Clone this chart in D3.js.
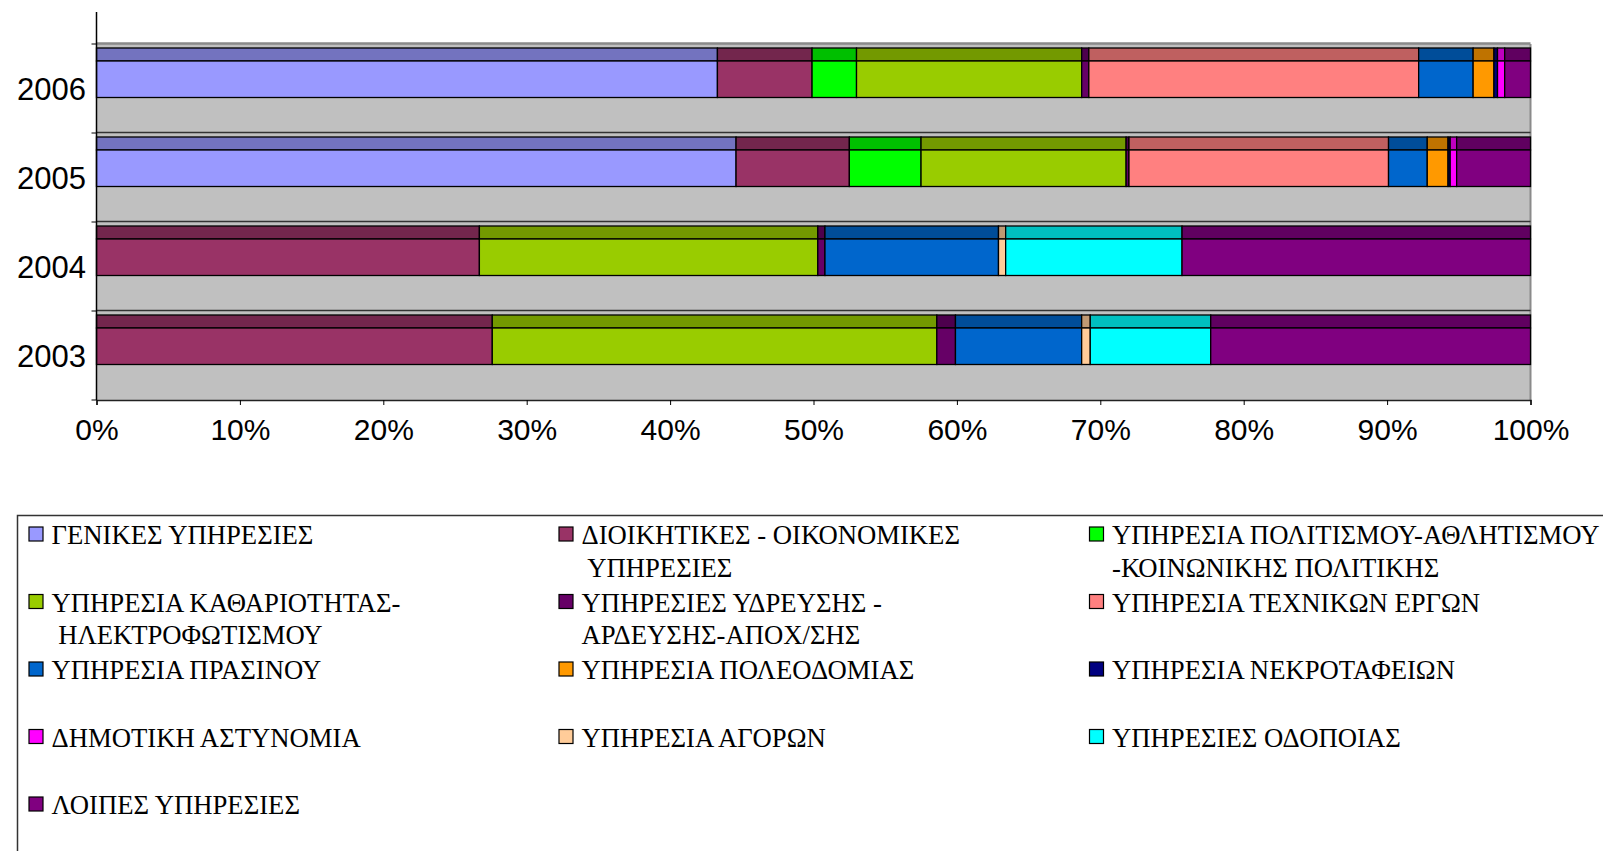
<!DOCTYPE html>
<meta charset="utf-8">
<style>
  body { margin: 0; background: #fff; }
  text { fill: #000; }
</style>
<body>
<script src="https://cdn.jsdelivr.net/npm/d3@7"></script>
<script>

var width = 1603,
    height = 851;

// categories (top to bottom)
var years = ["2006", "2005", "2004", "2003"];

// services, in legend / stacking order ("\n" = where the legend wraps)
var services = [
  "ΓΕΝΙΚΕΣ ΥΠΗΡΕΣΙΕΣ",
  "ΔΙΟΙΚΗΤΙΚΕΣ - ΟΙΚΟΝΟΜΙΚΕΣ\n ΥΠΗΡΕΣΙΕΣ",
  "ΥΠΗΡΕΣΙΑ ΠΟΛΙΤΙΣΜΟΥ-ΑΘΛΗΤΙΣΜΟΥ\n-ΚΟΙΝΩΝΙΚΗΣ ΠΟΛΙΤΙΚΗΣ",
  "ΥΠΗΡΕΣΙΑ ΚΑΘΑΡΙΟΤΗΤΑΣ-\n ΗΛΕΚΤΡΟΦΩΤΙΣΜΟΥ",
  "ΥΠΗΡΕΣΙΕΣ ΥΔΡΕΥΣΗΣ -\nΑΡΔΕΥΣΗΣ-ΑΠΟΧ/ΣΗΣ",
  "ΥΠΗΡΕΣΙΑ ΤΕΧΝΙΚΩΝ ΕΡΓΩΝ",
  "ΥΠΗΡΕΣΙΑ ΠΡΑΣΙΝΟΥ",
  "ΥΠΗΡΕΣΙΑ ΠΟΛΕΟΔΟΜΙΑΣ",
  "ΥΠΗΡΕΣΙΑ ΝΕΚΡΟΤΑΦΕΙΩΝ",
  "ΔΗΜΟΤΙΚΗ ΑΣΤΥΝΟΜΙΑ",
  "ΥΠΗΡΕΣΙΑ ΑΓΟΡΩΝ",
  "ΥΠΗΡΕΣΙΕΣ ΟΔΟΠΟΙΑΣ",
  "ΛΟΙΠΕΣ ΥΠΗΡΕΣΙΕΣ"
];

var colors = ["#9999ff", "#993366", "#00ff00", "#99cc00", "#660066", "#ff8080",
              "#0066cc", "#ff9900", "#000080", "#ff00ff", "#ffcc99", "#00ffff", "#800080"];

// share (%) per service, same order as services
var v2006 = [43.3, 6.6, 3.1, 15.7, 0.5, 23.0, 3.8, 1.45, 0.25, 0.5, 0, 0, 1.8];
var v2005 = [44.6, 7.9, 5.0, 14.3, 0.2, 18.1, 2.7, 1.45, 0.15, 0.45, 0, 0, 5.15];
var v2004 = [0, 26.7, 0, 23.6, 0.5, 0, 12.1, 0, 0, 0, 0.5, 12.3, 24.3];
var v2003 = [0, 27.6, 0, 31.0, 1.3, 0, 8.8, 0, 0, 0, 0.6, 8.4, 22.3];

var xTicks = [0, 0.1, 0.2, 0.3, 0.4, 0.5, 0.6, 0.7, 0.8, 0.9, 1];

var svg = d3.select("body").append("svg")
    .attr("width", width)
    .attr("height", height);

var x = d3.scaleLinear()
    .domain([0, 1])
    .range([96.5, 1530.5]);

var y = d3.scaleBand()
    .domain(years)
    .range([44, 400]);

var table = [v2006, v2005, v2004, v2003].map(function(vals, i) {
  var row = {year: years[i]};
  services.forEach(function(s, j) { row[s] = vals[j]; });
  return row;
});

var stack = d3.stack()
    .keys(services)
    .offset(d3.stackOffsetExpand);

var layers = stack(table);

function shade(c) {
  var r = d3.rgb(c);
  return d3.rgb(r.r * 0.75, r.g * 0.75, r.b * 0.75).formatHex();
}

//PLOT BACKGROUND
svg.append("rect")
    .attr("x", x(0))
    .attr("y", y.range()[0])
    .attr("width", x(1) - x(0))
    .attr("height", y.range()[1] - y.range()[0])
    .attr("fill", "#c0c0c0");

svg.append("line")
    .attr("x1", x(0)).attr("x2", x(1))
    .attr("y1", y.range()[0] - 0.5).attr("y2", y.range()[0] - 0.5)
    .attr("stroke", "#8a8a8a").attr("stroke-width", 2.5);

svg.append("line")
    .attr("x1", x(1)).attr("x2", x(1))
    .attr("y1", y.range()[0]).attr("y2", y.range()[1])
    .attr("stroke", "#8a8a8a").attr("stroke-width", 2);

// category separators
svg.selectAll(".sep")
    .data(years.slice(1))
    .enter()
    .append("line")
    .attr("x1", x(0)).attr("x2", x(1))
    .attr("y1", function(d) { return y(d) - 0.5; })
    .attr("y2", function(d) { return y(d) - 0.5; })
    .attr("stroke", "#333").attr("stroke-width", 1.5);

//BARS
var seg = svg.selectAll(".layer")
    .data(layers)
    .enter()
    .append("g")
    .attr("class", "layer")
    .selectAll("g")
    .data(function(layer) {
      return layer.filter(function(d) { return d[1] - d[0] > 0; })
        .map(function(d) { return {k: layer.index, d: d}; });
    })
    .enter()
    .append("g");

// top face
seg.append("rect")
    .attr("x", function(s) { return x(s.d[0]); })
    .attr("y", function(s) { return y(s.d.data.year) + 4; })
    .attr("width", function(s) { return x(s.d[1]) - x(s.d[0]); })
    .attr("height", 13)
    .attr("fill", function(s) { return shade(colors[s.k]); })
    .attr("stroke", "#000")
    .attr("stroke-width", 1.3);

// front face
seg.append("rect")
    .attr("x", function(s) { return x(s.d[0]); })
    .attr("y", function(s) { return y(s.d.data.year) + 17; })
    .attr("width", function(s) { return x(s.d[1]) - x(s.d[0]); })
    .attr("height", 36.5)
    .attr("fill", function(s) { return colors[s.k]; })
    .attr("stroke", "#000")
    .attr("stroke-width", 1.3);

//AXES
var xAxis = svg.append("g")
    .attr("transform", "translate(0," + y.range()[1] + ")")
    .call(d3.axisBottom(x).tickValues(xTicks).tickFormat(d3.format(".0%")).tickSize(5).tickPadding(14));

xAxis.select(".domain").attr("stroke", "#222").attr("stroke-width", 1.5);
xAxis.selectAll(".tick line").attr("stroke", "#000");
xAxis.selectAll("text")
    .attr("font-family", "Liberation Sans, Arial, sans-serif")
    .attr("font-size", 30)
    .attr("fill", "#000");

// y axis line (runs above the plot, as the 3D wall edge)
svg.append("line")
    .attr("x1", x(0)).attr("x2", x(0))
    .attr("y1", 12).attr("y2", y.range()[1])
    .attr("stroke", "#000").attr("stroke-width", 1.5);

// y ticks at category boundaries
svg.selectAll(".ytick")
    .data(years.map(function(d) { return y(d); }).concat([y.range()[1]]))
    .enter()
    .append("line")
    .attr("x1", x(0) - 5).attr("x2", x(0))
    .attr("y1", function(d) { return d; })
    .attr("y2", function(d) { return d; })
    .attr("stroke", "#000");

svg.selectAll(".ylabel")
    .data(years)
    .enter()
    .append("text")
    .attr("x", 86)
    .attr("y", function(d) { return y(d) + y.bandwidth() / 2; })
    .attr("dy", "0.36em")
    .attr("text-anchor", "end")
    .attr("font-family", "Liberation Sans, Arial, sans-serif")
    .attr("font-size", 31)
    .text(function(d) { return d; });

//LEGEND
svg.append("rect")
    .attr("x", 17.5)
    .attr("y", 515.5)
    .attr("width", 1700)
    .attr("height", 500)
    .attr("fill", "none")
    .attr("stroke", "#333")
    .attr("stroke-width", 1.5);

var colX = [28.5, 558.5, 1089];

var item = svg.selectAll(".legend")
    .data(services)
    .enter()
    .append("g")
    .attr("transform", function(d, i) {
      return "translate(" + colX[i % 3] + "," + (534.5 + Math.floor(i / 3) * 67.5) + ")";
    });

item.append("rect")
    .attr("x", 0.5)
    .attr("y", -7.5)
    .attr("width", 14)
    .attr("height", 14)
    .attr("fill", function(d, i) { return colors[i]; })
    .attr("stroke", "#000")
    .attr("stroke-width", 1.2);

item.append("text")
    .attr("font-family", "Liberation Serif, Times New Roman, serif")
    .attr("font-size", 26.7)
    .style("white-space", "pre")
    .selectAll("tspan")
    .data(function(d) { return d.split("\n"); })
    .enter()
    .append("tspan")
    .attr("x", 23)
    .attr("y", function(d, i) { return 9.5 + i * 32.5; })
    .text(function(d) { return d; });

</script>
</body>
